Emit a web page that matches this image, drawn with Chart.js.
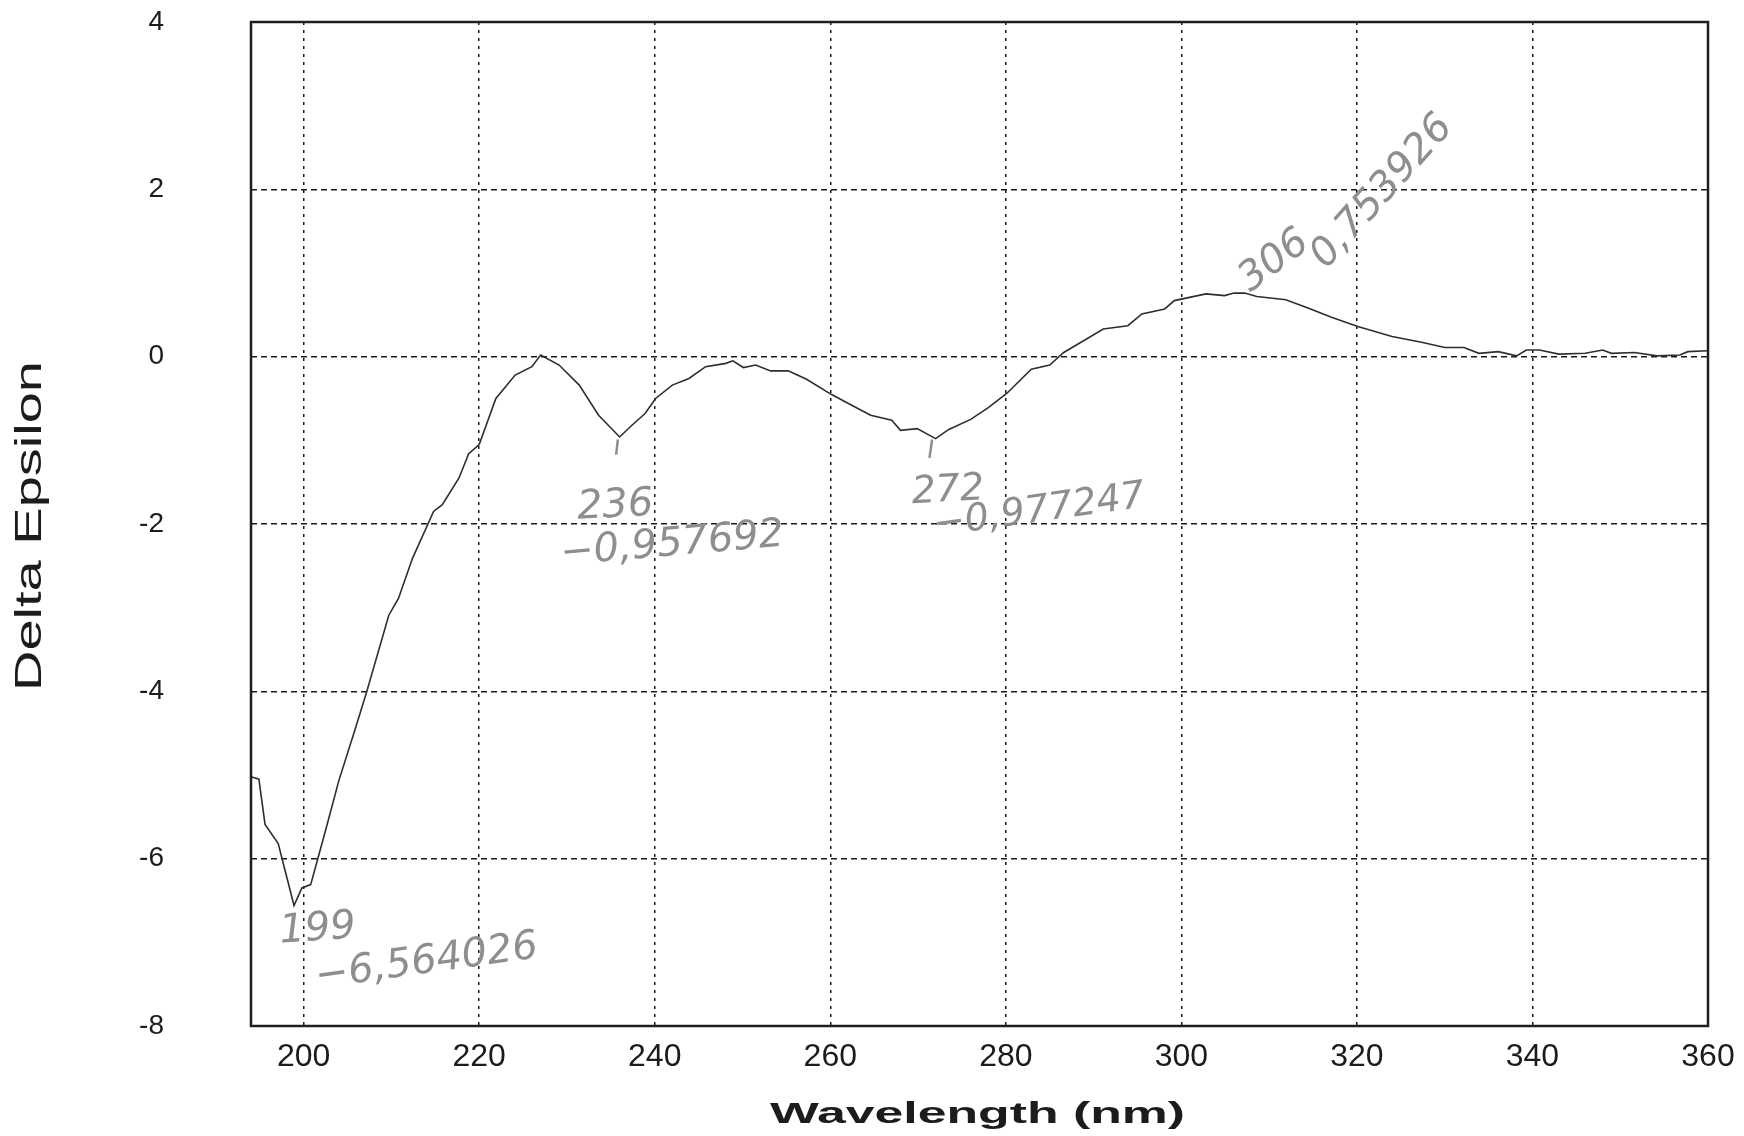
<!DOCTYPE html>
<html>
<head>
<meta charset="utf-8">
<title>CD spectrum</title>
<script src="https://cdn.jsdelivr.net/npm/chart.js@4.4.1/dist/chart.umd.min.js"></script>
<style>
  html, body { margin: 0; padding: 0; background: #fff; }
  #chart { display: block; }
</style>
</head>
<body>
<canvas id="chart" width="1744" height="1136"></canvas>
<script>
// wavelength (nm) and delta epsilon
var wavelengths = [
  194.0, 194.9, 195.6, 197.1, 198.9, 199.8, 200.8, 202.5, 204.0, 205.9,
  207.2, 209.7, 210.8, 212.4, 214.8, 215.8, 217.7, 218.8, 220.0, 221.9,
  224.1, 226.0, 227.0, 229.1, 231.4, 233.6, 236.0, 237.4, 238.9, 240.1,
  242.0, 243.9, 245.8, 248.1, 248.9, 250.1, 251.5, 253.2, 255.2, 257.3,
  260.1, 262.6, 264.6, 267.0, 268.0, 269.9, 272.0, 273.5, 276.0, 278.0,
  280.1, 282.9, 285.0, 286.6, 291.1, 293.9, 295.5, 298.1, 299.2, 302.8,
  304.9, 306.0, 307.2, 308.6, 311.9, 314.5, 317.1, 320.1, 324.0, 327.5,
  330.0, 332.2, 333.9, 336.1, 338.2, 339.3, 340.8, 343.0, 346.0, 348.0,
  349.0, 351.6, 354.2, 356.8, 357.7, 360.0
];
var deltaEpsilon = [
  -5.02, -5.05, -5.59, -5.82, -6.56, -6.35, -6.31, -5.66, -5.07, -4.44,
  -4.00, -3.09, -2.89, -2.41, -1.85, -1.77, -1.45, -1.16, -1.05, -0.50,
  -0.22, -0.12, 0.02, -0.10, -0.34, -0.70, -0.96, -0.82, -0.68, -0.50,
  -0.34, -0.26, -0.12, -0.08, -0.05, -0.13, -0.10, -0.17, -0.17, -0.27,
  -0.45, -0.59, -0.70, -0.76, -0.88, -0.86, -0.98, -0.87, -0.75, -0.61,
  -0.44, -0.15, -0.10, 0.05, 0.33, 0.37, 0.51, 0.57, 0.67, 0.75,
  0.73, 0.76, 0.76, 0.72, 0.68, 0.58, 0.47, 0.36, 0.24, 0.17,
  0.11, 0.11, 0.04, 0.06, 0.01, 0.08, 0.08, 0.03, 0.04, 0.08,
  0.04, 0.05, 0.01, 0.02, 0.06, 0.07
];

var xTicks = [200, 220, 240, 260, 280, 300, 320, 340, 360];
var yTicks = [-8, -6, -4, -2, 0, 2, 4];
var xRange = [194, 360];
var yRange = [-8, 4];

// pencil notes written on the printout (data coordinates)
var noteTexts = ['199', '\u22126,564026', '236', '\u22120,957692', '272', '\u22120,977247', '306', '0,753926'];
var noteX = [201.6, 214.0, 235.5, 242.0, 273.4, 283.8, 310.6, 322.9];
var noteY = [-6.85, -7.24, -1.79, -2.25, -1.61, -1.85, 1.14, 1.97];
var noteAngle = [-4, -8, -3, -5, -3, -8, -37, -48];
var noteSize = [40, 40, 40, 40, 38, 38, 40, 40];
// little pencil strokes under the two minima
var strokes = [[235.8, -0.99, 235.6, -1.17], [271.6, -0.99, 271.3, -1.21]];

var points = [];
wavelengths.forEach(function (w, i) {
    points.push({x: w, y: deltaEpsilon[i]});
});

function stretchedText(ctx, text, cx, cy, targetWidth, font, rotation) {
    ctx.save();
    ctx.font = font;
    var w = ctx.measureText(text).width;
    ctx.translate(cx, cy);
    ctx.rotate(rotation);
    ctx.scale(targetWidth / w, 1);
    ctx.textAlign = 'center';
    ctx.textBaseline = 'middle';
    ctx.fillStyle = '#1c1c1c';
    ctx.fillText(text, 0, 0);
    ctx.restore();
}

var framePlugin = {
    id: 'frame',
    afterDraw: function (chart) {
        var ctx = chart.ctx;
        var a = chart.chartArea;
        var xs = chart.scales.x;
        var ys = chart.scales.y;

        ctx.save();
        ctx.strokeStyle = '#1e1e1e';
        ctx.lineWidth = 2.5;
        ctx.strokeRect(a.left, a.top, a.right - a.left, a.bottom - a.top);
        ctx.restore();

        // axis titles
        stretchedText(ctx, 'Delta Epsilon', 31, (a.top + a.bottom) / 2 + 2, 330,
            '36px "Liberation Sans", Arial, sans-serif', -Math.PI / 2);
        stretchedText(ctx, 'Wavelength (nm)', (a.left + a.right) / 2 - 2, 1115, 415,
            'bold 30px "Liberation Sans", Arial, sans-serif', 0);

        // pencil notes
        ctx.save();
        ctx.fillStyle = '#8e8e8e';
        ctx.strokeStyle = '#8e8e8e';
        ctx.textAlign = 'center';
        ctx.textBaseline = 'middle';
        noteTexts.forEach(function (t, i) {
            ctx.save();
            ctx.translate(xs.getPixelForValue(noteX[i]), ys.getPixelForValue(noteY[i]));
            ctx.rotate(noteAngle[i] * Math.PI / 180);
            ctx.font = 'italic ' + noteSize[i] + 'px "DejaVu Sans", sans-serif';
            ctx.fillText(t, 0, 0);
            ctx.restore();
        });
        ctx.lineWidth = 2.5;
        strokes.forEach(function (s) {
            ctx.beginPath();
            ctx.moveTo(xs.getPixelForValue(s[0]), ys.getPixelForValue(s[1]));
            ctx.lineTo(xs.getPixelForValue(s[2]), ys.getPixelForValue(s[3]));
            ctx.stroke();
        });
        ctx.restore();
    }
};

var config = {
    type: 'line',
    data: {
        datasets: [{
            label: 'Delta Epsilon',
            data: points,
            borderColor: '#2e2e2e',
            borderWidth: 1.6,
            pointRadius: 0,
            tension: 0,
            fill: false
        }]
    },
    options: {
        responsive: false,
        animation: false,
        layout: {padding: {top: 22, right: 36, left: 0, bottom: 0}},
        plugins: {
            legend: {display: false},
            tooltip: {enabled: false}
        },
        scales: {
            x: {
                type: 'linear',
                min: xRange[0],
                max: xRange[1],
                afterBuildTicks: function (axis) {
                    axis.ticks = xTicks.map(function (v) { return {value: v}; });
                },
                afterFit: function (axis) {
                    axis.height = 110;
                    axis.paddingLeft = 0;
                    axis.paddingRight = 0;
                },
                grid: {color: '#1a1a1a', lineWidth: 1.5, drawTicks: false},
                border: {display: false, dash: [3, 5]},
                ticks: {
                    padding: 12,
                    color: '#1c1c1c',
                    font: {family: '"Liberation Sans", Arial, sans-serif', size: 32}
                }
            },
            y: {
                type: 'linear',
                min: yRange[0],
                max: yRange[1],
                afterBuildTicks: function (axis) {
                    axis.ticks = yTicks.map(function (v) { return {value: v}; });
                },
                afterFit: function (axis) {
                    axis.width = 251;
                    // the big label gap should not push the plot down
                    axis.paddingTop = 0;
                    axis.paddingBottom = 0;
                },
                grid: {color: '#1a1a1a', lineWidth: 1.5, drawTicks: false},
                border: {display: false, dash: [6, 4]},
                ticks: {
                    padding: 87,
                    color: '#1c1c1c',
                    font: {family: '"Liberation Sans", Arial, sans-serif', size: 28}
                }
            }
        }
    },
    plugins: [framePlugin]
};

window.cdChart = new Chart(document.getElementById('chart'), config);
</script>
</body>
</html>
